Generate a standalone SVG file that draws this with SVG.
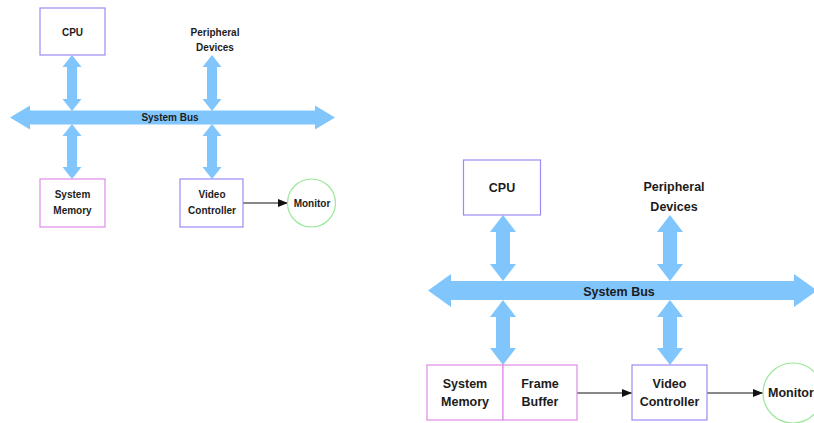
<svg xmlns="http://www.w3.org/2000/svg" width="814" height="423" viewBox="0 0 814 423">
<style>
.bus{fill:#80c6fd;stroke:none}
.cpu{fill:#fff;stroke:#9a8cf6;stroke-width:1.2}
.mem{fill:#fff;stroke:#e08ae8;stroke-width:1.2}
.mon{fill:#fff;stroke:#9ae89a;stroke-width:1.2}
.ln{stroke:#111;stroke-width:1;fill:none}
text{font-family:"Liberation Sans",Arial,sans-serif;font-weight:bold;fill:#1c1c1c;text-anchor:middle}
.s{font-size:10px}
.b{font-size:12.5px}
</style>
<defs>
<marker id="ah" markerWidth="10" markerHeight="8" refX="10" refY="4" orient="auto" markerUnits="userSpaceOnUse">
<path d="M0,0 L10,4 L0,8 Z" fill="#111"/>
</marker>
</defs>
<rect width="814" height="423" fill="#fff"/>
<g id="connectors">
<polygon class="bus" points="10,117.5 30,105.5 30,110.5 315,110.5 315,105.5 335,117.5 315,129.5 315,124.5 30,124.5 30,129.5"/>
<polygon class="bus" points="72,55 81.5,67 77,67 77,99 81.5,99 72,111 62.5,99 67,99 67,67 62.5,67"/>
<polygon class="bus" points="212,55 221.5,67 217,67 217,99 221.5,99 212,111 202.5,99 207,99 207,67 202.5,67"/>
<polygon class="bus" points="72,124 81.5,136 77,136 77,167 81.5,167 72,179 62.5,167 67,167 67,136 62.5,136"/>
<polygon class="bus" points="212,124 221.5,136 217,136 217,167 221.5,167 212,179 202.5,167 207,167 207,136 202.5,136"/>
<line class="ln" x1="243" y1="203" x2="288" y2="203" marker-end="url(#ah)"/>
<polygon class="bus" points="428,290.5 451,274 451,281 794,281 794,274 817,290.5 794,307 794,300 451,300 451,307"/>
<polygon class="bus" points="503,215 516,232 510,232 510,264 516,264 503,281 490,264 496,264 496,232 490,232"/>
<polygon class="bus" points="670,215 683,232 677,232 677,264 683,264 670,281 657,264 663,264 663,232 657,232"/>
<polygon class="bus" points="503,300 516,317 510,317 510,348 516,348 503,365 490,348 496,348 496,317 490,317"/>
<polygon class="bus" points="670,300 683,317 677,317 677,348 683,348 670,365 657,348 663,348 663,317 657,317"/>
<line class="ln" x1="577" y1="393" x2="632" y2="393" marker-end="url(#ah)"/>
<line class="ln" x1="707" y1="393" x2="763" y2="393" marker-end="url(#ah)"/>
</g>
<text class="s" x="170" y="121">System Bus</text>
<text class="b" x="619" y="296">System Bus</text>
<g id="l-cpu"><rect class="cpu" x="40" y="8" width="65" height="47"/><text class="s" x="72.5" y="35.5">CPU</text></g>
<g id="l-periph"><text class="s" x="215" y="36">Peripheral</text><text class="s" x="215" y="51">Devices</text></g>
<g id="l-mem"><rect class="mem" x="40" y="179" width="65" height="48"/><text class="s" x="72.5" y="198">System</text><text class="s" x="72.5" y="214">Memory</text></g>
<g id="l-video"><rect class="cpu" x="180" y="179" width="63" height="48"/><text class="s" x="212" y="198">Video</text><text class="s" x="212" y="214">Controller</text></g>
<g id="l-monitor"><circle class="mon" cx="311.5" cy="203" r="24"/><text class="s" x="312" y="206.5">Monitor</text></g>
<g id="r-cpu"><rect class="cpu" x="463.5" y="160" width="77" height="55"/><text class="b" x="502" y="191.5">CPU</text></g>
<g id="r-periph"><text class="b" x="674" y="191">Peripheral</text><text class="b" x="674" y="211">Devices</text></g>
<g id="r-mem"><rect class="mem" x="427" y="365" width="76" height="55"/><text class="b" x="465" y="387.5">System</text><text class="b" x="465" y="406">Memory</text></g>
<g id="r-fb"><rect class="mem" x="503" y="365" width="74" height="55"/><text class="b" x="540" y="387.5">Frame</text><text class="b" x="540" y="406">Buffer</text></g>
<g id="r-video"><rect class="cpu" x="632" y="365" width="75" height="55"/><text class="b" x="669.5" y="387.5">Video</text><text class="b" x="669.5" y="406">Controller</text></g>
<g id="r-monitor"><circle class="mon" cx="793" cy="393" r="30"/><text class="b" x="768" y="397" style="text-anchor:start">Monitor</text></g>
</svg>
